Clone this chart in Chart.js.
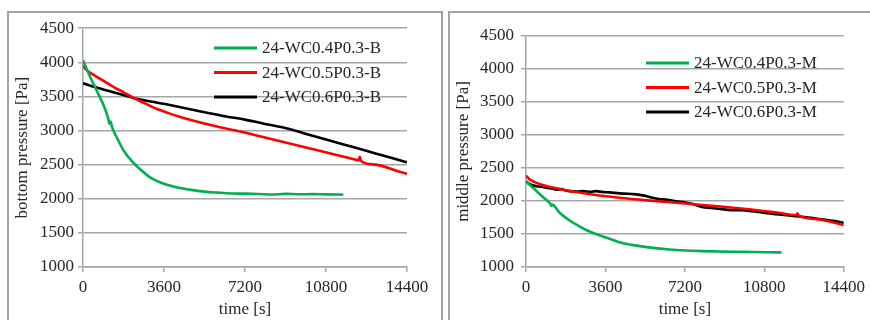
<!DOCTYPE html>
<html>
<head>
<meta charset="utf-8">
<script src="https://cdn.jsdelivr.net/npm/chart.js@4.4.1/dist/chart.umd.min.js"></script>
<style>
  body { margin: 0; background: #fff; width: 870px; height: 320px; overflow: hidden; position: relative; }
  .frame { position: absolute; box-sizing: border-box; border: 2px solid #a3a3a3; }
  #f1 { left: 7px; top: 11px; width: 436px; height: 330px; }
  #f2 { left: 448px; top: 11px; width: 440px; height: 330px; }
  #c1wrap { position: absolute; left: 10px; top: 14px; width: 430px; height: 306px; }
  #c2wrap { position: absolute; left: 451px; top: 14px; width: 419px; height: 306px; }
</style>
</head>
<body>
<div class="frame" id="f1"></div>
<div class="frame" id="f2"></div>
<div id="c1wrap"><canvas id="bottomChart"></canvas></div>
<div id="c2wrap"><canvas id="middleChart"></canvas></div>
<script>
// bottom pressure series
var timeB04 = [0,300,600,900,1100,1180,1220,1300,1500,1800,2200,2600,3000,3600,4200,4800,5400,6000,6600,7200,7800,8400,9000,9600,10200,10800,11570];
var presB04 = [4030,3800,3590,3380,3200,3100,3130,3040,2900,2710,2540,2415,2310,2220,2165,2130,2105,2090,2078,2075,2070,2062,2072,2066,2068,2065,2060];
var timeB05 = [0,150,400,800,1200,1800,2300,2800,3300,3800,4400,5000,6000,7000,8000,9000,10000,11000,12000,12250,12300,12360,13000,14000,14400];
var presB05 = [3950,3890,3830,3750,3670,3560,3470,3390,3315,3255,3190,3135,3055,2985,2905,2825,2745,2665,2582,2562,2615,2555,2500,2405,2366];
var timeB06 = [0,600,1200,2200,3000,3700,4500,5400,6300,7200,8000,8900,10000,11000,12000,13000,14000,14400];
var presB06 = [3693,3630,3575,3482,3425,3385,3330,3268,3210,3160,3104,3045,2943,2850,2758,2665,2572,2535];

// middle pressure series
var timeM04 = [0,200,480,800,1100,1155,1200,1500,1980,2400,2800,3200,3700,4230,4800,5730,6500,7230,8000,8730,9500,10300,11000,11580];
var presM04 = [2290,2235,2150,2050,1960,1925,1945,1830,1705,1620,1550,1495,1440,1375,1335,1290,1265,1250,1240,1235,1230,1228,1224,1220];
var timeM05 = [0,150,400,630,1000,1500,1980,3000,4230,5500,7230,8700,10230,11300,12250,12300,12350,13300,14400];
var presM05 = [2384,2330,2285,2255,2220,2185,2152,2098,2050,2010,1962,1920,1870,1830,1785,1812,1782,1720,1638];
var timeM06 = [0,150,300,480,700,900,1230,1400,1600,1800,1980,2300,2600,2900,3180,3500,3800,4230,4600,4980,5300,5600,6030,6400,6800,7230,7600,7980,8400,8800,9300,9800,10230,10700,11200,11700,12100,12480,13000,13500,14000,14400];
var presM06 = [2300,2260,2240,2224,2215,2200,2185,2170,2180,2160,2150,2145,2150,2140,2150,2135,2130,2115,2110,2100,2085,2060,2030,2020,1995,1978,1950,1910,1895,1880,1862,1860,1845,1825,1805,1790,1775,1762,1740,1720,1695,1668];

var labelsB = ['24-WC0.4P0.3-B', '24-WC0.5P0.3-B', '24-WC0.6P0.3-B'];
var labelsM = ['24-WC0.4P0.3-M', '24-WC0.5P0.3-M', '24-WC0.6P0.3-M'];
var colors = ['#00b050', '#ff0000', '#000000'];

var timeTicks = [0, 3600, 7200, 10800, 14400];

var serif = "'Liberation Serif', 'Times New Roman', serif";
var textColor = '#262626';
var gridColor = '#a6a6a6';
var fontSize = 17;

function pts(t, v) {
  return t.map(function (x, i) { return { x: x, y: v[i] }; });
}

// legend drawn inside the plot like the original
function legendPlugin(x0, y0) {
  return {
    id: 'innerLegend',
    afterDraw: function (chart) {
      var ctx = chart.ctx;
      ctx.save();
      ctx.font = fontSize + 'px ' + serif;
      ctx.textBaseline = 'middle';
      ctx.textAlign = 'left';
      chart.data.datasets.forEach(function (ds, i) {
        var y = y0 + i * 24.5;
        ctx.strokeStyle = ds.borderColor;
        ctx.lineWidth = 3;
        ctx.beginPath();
        ctx.moveTo(x0, y);
        ctx.lineTo(x0 + 43, y);
        ctx.stroke();
        ctx.fillStyle = textColor;
        ctx.fillText(ds.label, x0 + 48, y + 1);
      });
      ctx.restore();
    }
  };
}

function makeChart(id, title, labels, series, yWidth, yPad, padTop, padRight, legendPos) {
  var datasets = series.map(function (s, i) {
    return {
      label: labels[i],
      data: pts(s[0], s[1]),
      borderColor: colors[i],
      backgroundColor: colors[i],
      borderWidth: 2.6,
      pointRadius: 0,
      cubicInterpolationMode: 'monotone',
      fill: false
    };
  });
  return new Chart(document.getElementById(id), {
    type: 'line',
    data: { datasets: datasets },
    options: {
      responsive: true,
      maintainAspectRatio: false,
      animation: false,
      layout: { padding: { top: padTop, right: padRight, left: 0, bottom: 0 } },
      plugins: { legend: { display: false }, tooltip: { enabled: false } },
      scales: {
        x: {
          type: 'linear',
          min: 0,
          max: 14400,
          afterBuildTicks: function (axis) {
            axis.ticks = timeTicks.map(function (v) { return { value: v }; });
          },
          afterFit: function (axis) { axis.height = 53; },
          grid: { drawOnChartArea: false, drawTicks: true, tickLength: 5, color: gridColor, lineWidth: 1.5 },
          border: { display: true, color: gridColor, width: 1.5 },
          ticks: {
            color: textColor,
            padding: 5,
            maxRotation: 0,
            font: { family: serif, size: fontSize },
            callback: function (v) { return String(v); }
          },
          title: {
            display: true,
            text: 'time [s]',
            color: textColor,
            padding: { top: 0, bottom: 0 },
            font: { family: serif, size: fontSize }
          }
        },
        y: {
          min: 1000,
          max: 4500,
          afterFit: function (axis) { axis.width = yWidth; },
          grid: { drawTicks: true, tickLength: 5, color: gridColor, lineWidth: 1.5 },
          border: { display: true, color: gridColor, width: 1.5 },
          ticks: {
            stepSize: 500,
            color: textColor,
            padding: yPad,
            font: { family: serif, size: fontSize },
            callback: function (v) { return String(v); }
          },
          title: {
            display: true,
            text: title,
            color: textColor,
            padding: { top: 2, bottom: 0 },
            font: { family: serif, size: fontSize }
          }
        }
      }
    },
    plugins: [legendPlugin(legendPos[0], legendPos[1])]
  });
}

makeChart('bottomChart', 'bottom pressure [Pa]', labelsB,
  [[timeB04, presB04], [timeB05, presB05], [timeB06, presB06]],
  73, 4, 10, 33, [204, 34]);

makeChart('middleChart', 'middle pressure [Pa]', labelsM,
  [[timeM04, presM04], [timeM05, presM05], [timeM06, presM06]],
  75, 7, 22, 24, [195, 49]);
</script>
</body>
</html>
